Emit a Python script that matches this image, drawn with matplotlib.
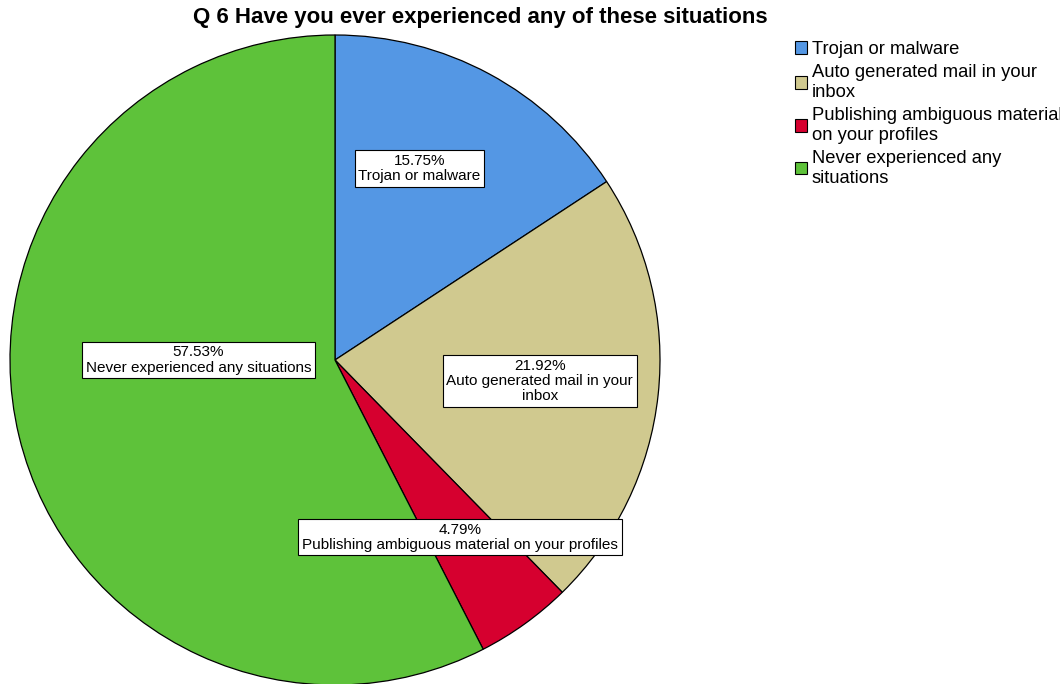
import matplotlib
matplotlib.use("Agg")
import matplotlib.pyplot as plt
from matplotlib.patches import Patch

plt.rcParams['font.family'] = ['Liberation Sans', 'DejaVu Sans']

# Q6 answers (percent of respondents)
categories = ["Trojan or malware",
              "Auto generated mail in your inbox",
              "Publishing ambiguous material on your profiles",
              "Never experienced any situations"]
percents = [15.75, 21.92, 4.79, 57.53]

legend_labels = ["Trojan or malware",
                 "Auto generated mail in your\ninbox",
                 "Publishing ambiguous material\non your profiles",
                 "Never experienced any\nsituations"]
box_labels = ["Trojan or malware",
              "Auto generated mail in your\ninbox",
              "Publishing ambiguous material on your profiles",
              "Never experienced any situations"]

colors = ["#5497e4", "#d0c98f", "#d6002f", "#5ec23a"]
# where each label box sits, in pie-radius units
label_xy = [(0.26, 0.59), (0.63, -0.065), (0.385, -0.545), (-0.42, 0.0)]

W, H = 1060, 684
fig = plt.figure(figsize=(W / 100, H / 100), dpi=100)
fig.patch.set_facecolor("white")

# pie centred at (335, 360) px, radius 325 px
cx, cy, r = 335, 360, 325
ax = fig.add_axes([(cx - r) / W, (H - cy - r) / H, 2 * r / W, 2 * r / H])

wedges, _ = ax.pie(percents, colors=colors, startangle=90, counterclock=False,
                   radius=1, wedgeprops=dict(edgecolor="black", linewidth=0.9))
ax.set_xlim(-1, 1)
ax.set_ylim(-1, 1)
ax.set_aspect("equal")
ax.axis("off")
for w in wedges:
    w.set_clip_on(False)

for p, lab, (x, y) in zip(percents, box_labels, label_xy):
    ax.text(x, y, "%.2f%%\n%s" % (p, lab), ha="center", va="center",
            fontsize=11, linespacing=1.1, color="black",
            bbox=dict(boxstyle="square,pad=0.25", facecolor="white",
                      edgecolor="black", linewidth=0.8))

fig.text(480 / W, 1 - 17 / H, "Q 6 Have you ever experienced any of these situations",
         ha="center", va="center", fontsize=16, fontweight="bold")

handles = [Patch(facecolor=c, edgecolor="black", linewidth=0.8) for c in colors]
fig.legend(handles, legend_labels, loc="upper left",
           bbox_to_anchor=(795 / W, 1 - 41 / H), frameon=False,
           fontsize=13.2, handlelength=0.65, handleheight=0.65,
           handletextpad=0.25, labelspacing=0.34, borderaxespad=0,
           borderpad=0)

fig.savefig("out.png", dpi=100)
